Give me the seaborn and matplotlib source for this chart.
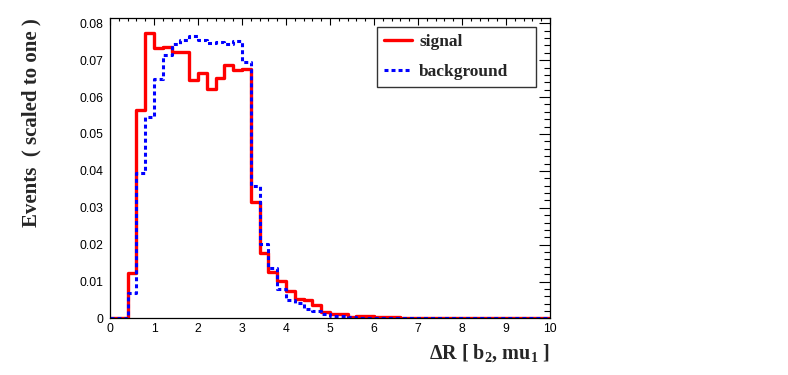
import numpy as np
import pandas as pd
import matplotlib
matplotlib.use("Agg")
import matplotlib.pyplot as plt
from matplotlib.ticker import MultipleLocator, FuncFormatter
import seaborn as sns

# bin edges of the histogram (0.2 wide, 0..10)
bin_edges = [round(0.2 * i, 1) for i in range(51)]

signal = [0.0, 0.0, 0.0122, 0.0566, 0.0774, 0.0732, 0.0736, 0.0721, 0.0723, 0.0646,
          0.0664, 0.0623, 0.0653, 0.0688, 0.0673, 0.0677, 0.0316, 0.0178, 0.0126, 0.0101,
          0.0074, 0.0052, 0.0050, 0.0036, 0.0018, 0.0013, 0.0013, 0.0005, 0.0007, 0.0006,
          0.0004, 0.0003, 0.0003, 0.0002, 0.0002, 0.0002, 0.0002, 0.0001, 0.0002, 0.0001,
          0.0001, 0.0001, 0.0001, 0.0001, 0.0001, 0.0001, 0.0001, 0.0001, 0.0001, 0.0001]

background = [0.0, 0.0, 0.0068, 0.0393, 0.0547, 0.0650, 0.0714, 0.0743, 0.0754, 0.0765,
              0.0756, 0.0747, 0.0750, 0.0743, 0.0752, 0.0696, 0.0360, 0.0201, 0.0136, 0.0081,
              0.0051, 0.0041, 0.0027, 0.0021, 0.0012, 0.0008, 0.0006, 0.0003, 0.0002, 0.0002,
              0.0002, 0.0001, 0.0001, 0.0001, 0.0001, 0.0001, 0.0001, 0.0001, 0.0001, 0.0001,
              0.0001, 0.0001, 0.0001, 0.0001, 0.00005, 0.00005, 0.00005, 0.00005, 0.00005, 0.00005]

centers = [e + 0.1 for e in bin_edges[:-1]]
df_sig = pd.DataFrame({"dR": centers, "w": signal})
df_bkg = pd.DataFrame({"dR": centers, "w": background})

sns.set_style("white")
plt.rcParams["font.family"] = ["Liberation Sans", "DejaVu Sans"]
plt.rcParams["mathtext.fontset"] = "custom"
plt.rcParams["mathtext.rm"] = "Liberation Serif:bold"
plt.rcParams["mathtext.it"] = "Liberation Serif:bold"
plt.rcParams["mathtext.bf"] = "Liberation Serif:bold"

fig = plt.figure(figsize=(7.88, 3.75), dpi=100)
ax = fig.add_axes([0.1396, 0.1507, 0.5584, 0.80])

sns.histplot(data=df_sig, x="dR", weights="w", bins=bin_edges, element="step", fill=False,
             color="#ff0000", linewidth=2.4, label="signal", ax=ax)
sns.histplot(data=df_bkg, x="dR", weights="w", bins=bin_edges, element="step", fill=False,
             color="#0000ff", linewidth=2.2, linestyle=(0, (1.3, 1.0)), label="background", ax=ax)

ax.set_xlim(0, 10)
ax.set_ylim(0, 0.0813)

ax.xaxis.set_major_locator(MultipleLocator(1))
ax.xaxis.set_minor_locator(MultipleLocator(0.2))
ax.yaxis.set_major_locator(MultipleLocator(0.01))
ax.yaxis.set_minor_locator(MultipleLocator(0.002))
ax.yaxis.set_major_formatter(FuncFormatter(lambda v, p: "0" if abs(v) < 1e-9 else f"{v:.2f}"))
ax.xaxis.set_major_formatter(FuncFormatter(lambda v, p: f"{v:g}"))

ax.tick_params(axis="both", which="both", direction="in", top=True, right=True,
               labelsize=8.8, colors="black", width=0.8)
ax.tick_params(axis="x", which="major", length=5, pad=3)
ax.tick_params(axis="x", which="minor", length=2.5)
ax.tick_params(axis="y", which="major", length=8, pad=5)
ax.tick_params(axis="y", which="minor", length=4.5)
for s in ax.spines.values():
    s.set_color("black")
    s.set_linewidth(0.9)

serif = ["Liberation Serif", "DejaVu Serif"]
ax.set_xlabel("ΔR [ b$_2$, mu$_1$ ]", family=serif,
              fontweight="bold", fontsize=14.5, loc="right")
ax.xaxis.set_label_coords(1.0, -0.078)
ax.set_ylabel("Events  ( scaled to one )", family=serif, fontweight="bold",
              fontsize=15, loc="top")
ax.yaxis.set_label_coords(-0.155, 1.0)

# legend box stretched like the ROOT TLegend
leg = ax.legend(loc="upper left", bbox_to_anchor=(0.607, 0.778, 0.361, 0.194),
                mode="expand", borderaxespad=0,
                prop={"family": serif, "weight": "bold", "size": 12.5},
                handlelength=1.6, handletextpad=0.4, labelspacing=0.78,
                borderpad=0.42, frameon=True, fancybox=False)
leg.get_frame().set_edgecolor("black")
leg.get_frame().set_linewidth(1.0)

fig.savefig("out.png", dpi=100)
